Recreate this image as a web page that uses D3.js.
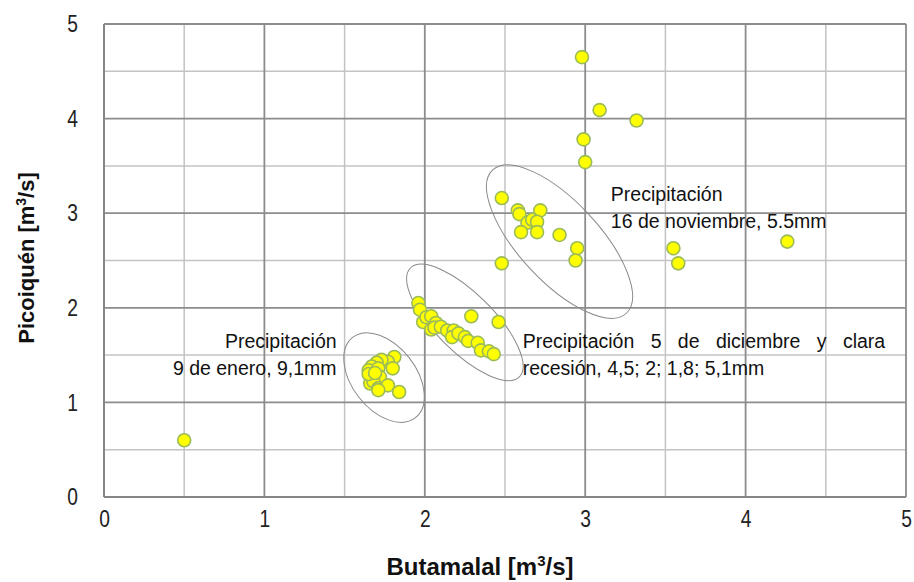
<!DOCTYPE html>
<html>
<head>
<meta charset="utf-8">
<script src="https://cdn.jsdelivr.net/npm/d3@7"></script>
<style>
  html, body { margin: 0; padding: 0; background: #fff; }
  svg { display: block; }
  .tick-label { font-family: "Liberation Sans", Arial, sans-serif; font-size: 24px; fill: #222; }
  .axis-title { font-family: "Liberation Sans", Arial, sans-serif; font-weight: bold; fill: #111; }
  .note { font-family: "Liberation Sans", Arial, sans-serif; font-size: 19.5px; fill: #111; }
</style>
</head>
<body>
<script>
// ---- data ----
const butamalal = [
  0.50,
  1.81, 1.77, 1.73, 1.70, 1.67, 1.65, 1.71, 1.80, 1.67, 1.72, 1.66, 1.68, 1.71, 1.77, 1.84, 1.71, 1.65, 1.69,
  1.96, 1.97, 1.99, 2.01, 2.04, 2.07, 2.04, 2.06, 2.10, 2.14, 2.18, 2.17, 2.21, 2.25, 2.27, 2.33, 2.35, 2.40, 2.43, 2.29, 2.46,
  2.48, 2.58, 2.59, 2.72, 2.64, 2.67, 2.70, 2.60, 2.70, 2.84, 2.95, 2.94, 2.48,
  2.98, 3.09, 3.32, 2.99, 3.00, 3.55, 3.58, 4.26
];
const picoiquen = [
  0.60,
  1.48, 1.43, 1.45, 1.42, 1.38, 1.34, 1.36, 1.36, 1.25, 1.27, 1.20, 1.22, 1.15, 1.18, 1.11, 1.13, 1.30, 1.31,
  2.05, 1.98, 1.85, 1.90, 1.91, 1.84, 1.77, 1.79, 1.80, 1.76, 1.76, 1.69, 1.73, 1.69, 1.65, 1.63, 1.55, 1.54, 1.51, 1.91, 1.85,
  3.16, 3.03, 2.99, 3.03, 2.90, 2.93, 2.91, 2.80, 2.80, 2.77, 2.63, 2.50, 2.47,
  4.65, 4.09, 3.98, 3.78, 3.54, 2.63, 2.47, 2.70
];
const xTicks = [0, 1, 2, 3, 4, 5];
const yTicks = [0, 1, 2, 3, 4, 5];
const minorTicks = [0.5, 1.5, 2.5, 3.5, 4.5];
const xTitle = "Butamalal [m";
const yTitle = "Picoiquén [m";

// annotation ellipses (centre in data units)
const ellipseCx = [1.746, 2.25, 2.84];
const ellipseCy = [1.263, 1.845, 2.70];
// annotation texts
const notes = [
  { lines: ["Precipitación", "9 de enero, 9,1mm"], x: 1.45, y: 1.57, anchor: "end" },
  { lines: ["Precipitación", "16 de noviembre, 5.5mm"], x: 3.16, y: 3.13, anchor: "start" },
  { lines: ["Precipitación 5 de diciembre y clara", "recesión, 4,5; 2; 1,8; 5,1mm"], x: 2.61, y: 1.57, anchor: "start", justify: 2.26 }
];

// ---- layout ----
const W = 914, H = 582;
const margin = { left: 104, right: 8, top: 24, bottom: 85 };
const svg = d3.select("body").append("svg").attr("width", W).attr("height", H);

const x = d3.scaleLinear().domain([0, 5]).range([margin.left, W - margin.right]);
const y = d3.scaleLinear().domain([0, 5]).range([H - margin.bottom, margin.top]);

const g = svg.append("g");

// minor grid
g.selectAll(".vminor").data(minorTicks).enter().append("line")
  .attr("x1", d => x(d)).attr("x2", d => x(d)).attr("y1", y(0)).attr("y2", y(5))
  .attr("stroke", "#c3c3c3").attr("stroke-width", 1.5);
g.selectAll(".hminor").data(minorTicks).enter().append("line")
  .attr("y1", d => y(d)).attr("y2", d => y(d)).attr("x1", x(0)).attr("x2", x(5))
  .attr("stroke", "#c3c3c3").attr("stroke-width", 1.5);
// major grid
g.selectAll(".vmajor").data(xTicks).enter().append("line")
  .attr("x1", d => x(d)).attr("x2", d => x(d)).attr("y1", y(0)).attr("y2", y(5))
  .attr("stroke", "#8c8c8c").attr("stroke-width", 1.8);
g.selectAll(".hmajor").data(yTicks).enter().append("line")
  .attr("y1", d => y(d)).attr("y2", d => y(d)).attr("x1", x(0)).attr("x2", x(5))
  .attr("stroke", "#8c8c8c").attr("stroke-width", 1.8);
// axes lines
g.append("line").attr("x1", x(0)).attr("x2", x(5)).attr("y1", y(0)).attr("y2", y(0))
  .attr("stroke", "#868686").attr("stroke-width", 2);
g.append("line").attr("x1", x(0)).attr("x2", x(0)).attr("y1", y(0)).attr("y2", y(5))
  .attr("stroke", "#868686").attr("stroke-width", 2);

// tick labels via axes (no tick lines), horizontally condensed
const squeeze = 0.8;
const xAxis = d3.axisBottom(x).tickValues(xTicks).tickSize(0).tickPadding(13).tickFormat(d3.format("d"));
const yAxis = d3.axisLeft(y).tickValues(yTicks).tickSize(0).tickPadding(26 / squeeze).tickFormat(d3.format("d"));
const gx = svg.append("g").attr("transform", `translate(0,${y(0)})`).call(xAxis);
const gy = svg.append("g").attr("transform", `translate(${x(0)},0)`).call(yAxis);
[gx, gy].forEach(a => {
  a.select(".domain").remove();
  a.attr("font-size", null).attr("font-family", null);
  a.selectAll("text").attr("class", "tick-label").attr("fill", null)
    .attr("transform", `scale(${squeeze},1)`);
});

// axis titles
const xt = svg.append("text").attr("class", "axis-title").attr("font-size", 24)
  .attr("x", 480).attr("y", 575).attr("text-anchor", "middle");
xt.append("tspan").text(xTitle);
xt.append("tspan").attr("dy", -9).attr("font-size", 15).text("3");
xt.append("tspan").attr("dy", 9).text("/s]");

const yt = svg.append("text").attr("class", "axis-title").attr("font-size", 22)
  .attr("transform", `translate(34,258) rotate(-90)`).attr("text-anchor", "middle");
yt.append("tspan").text(yTitle);
yt.append("tspan").attr("dy", -8).attr("font-size", 14).text("3");
yt.append("tspan").attr("dy", 8).text("/s]");

// ellipses
const ellipseRx = [51, 77, 98];
const ellipseRy = [32, 29, 40];
const ellipseRot = [52, 45, 47];
svg.selectAll(".ell").data(ellipseCx).enter().append("ellipse")
  .attr("cx", 0).attr("cy", 0)
  .attr("rx", (d, i) => ellipseRx[i]).attr("ry", (d, i) => ellipseRy[i])
  .attr("transform", (d, i) => `translate(${x(d)},${y(ellipseCy[i])}) rotate(${ellipseRot[i]})`)
  .attr("fill", "none").attr("stroke", "#8a8a8a").attr("stroke-width", 1);

// points
const pts = butamalal.map((b, i) => ({ b, p: picoiquen[i] }));
svg.selectAll(".pt").data(pts).enter().append("circle")
  .attr("cx", d => x(d.b)).attr("cy", d => y(d.p)).attr("r", 6.5)
  .attr("fill", "#ffff00").attr("stroke", "#9bbb59").attr("stroke-width", 1.6);

// notes
notes.forEach(n => {
  n.lines.forEach((line, li) => {
    const t = svg.append("text").attr("class", "note")
      .attr("x", x(n.x)).attr("y", y(n.y) + li * 27)
      .attr("text-anchor", n.anchor).text(line);
    if (n.justify && li === 0) {
      const target = x(n.justify + n.x) - x(n.x);
      const words = line.split(" ").length;
      const natural = t.node().getComputedTextLength();
      t.style("word-spacing", ((target - natural) / (words - 1)) + "px");
    }
  });
});
</script>
</body>
</html>
